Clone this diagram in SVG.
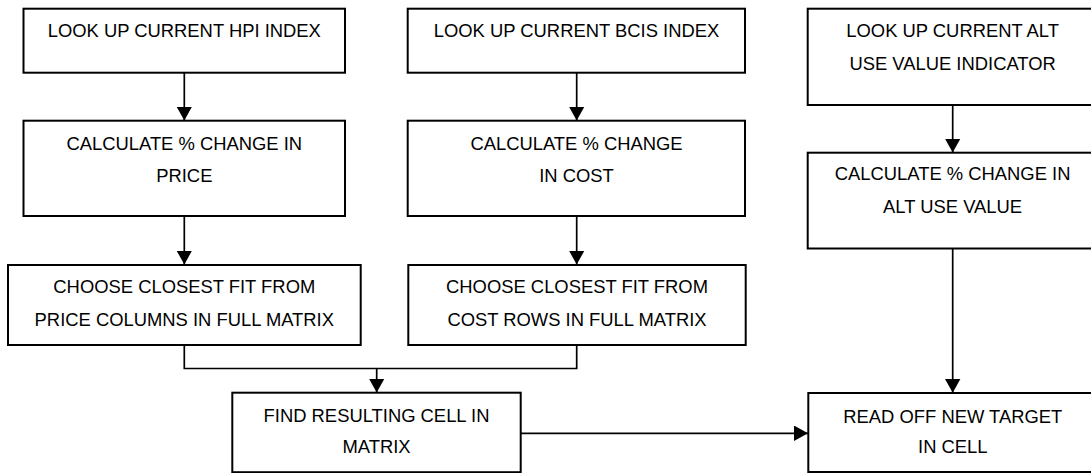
<svg xmlns="http://www.w3.org/2000/svg" width="1091" height="473" viewBox="0 0 1091 473">
<style>
.box{fill:#fff;stroke:#000;stroke-width:2}
.t{font-family:"Liberation Sans",Arial,sans-serif;font-size:18.4px;fill:#000;text-anchor:middle}
.c{fill:none;stroke:#000;stroke-width:1.7}
</style>
<defs>
<marker id="ah" markerUnits="userSpaceOnUse" markerWidth="15" markerHeight="16" refX="14" refY="7.8" orient="auto" viewBox="0 0 15 16">
<path d="M0,0 L14,7.8 L0,15.6 Z" fill="#000"/>
</marker>
</defs>
<rect width="1091" height="473" fill="#fff"/>
<g id="connectors">
<line class="c" x1="184.3" y1="73" x2="184.3" y2="120.5" marker-end="url(#ah)"/>
<line class="c" x1="576.7" y1="73" x2="576.7" y2="120.5" marker-end="url(#ah)"/>
<line class="c" x1="952.7" y1="105" x2="952.7" y2="152.5" marker-end="url(#ah)"/>
<line class="c" x1="184.3" y1="216" x2="184.3" y2="264.5" marker-end="url(#ah)"/>
<line class="c" x1="576.7" y1="216" x2="576.7" y2="264.5" marker-end="url(#ah)"/>
<polyline class="c" points="184.3,345 184.3,368.5 576.7,368.5 576.7,345"/>
<line class="c" x1="376.7" y1="368.5" x2="376.7" y2="392.5" marker-end="url(#ah)"/>
<line class="c" x1="520.7" y1="433.3" x2="808" y2="433.3" marker-end="url(#ah)"/>
<line class="c" x1="952.7" y1="249" x2="952.7" y2="392.8" marker-end="url(#ah)"/>
</g>
<g id="hpi">
<rect class="box" x="23.5" y="8.7" width="321.5" height="64"/>
<text class="t" x="184.3" y="36.7">LOOK UP CURRENT HPI INDEX</text>
</g>
<g id="bcis">
<rect class="box" x="407.7" y="8.7" width="337.3" height="64"/>
<text class="t" x="576.5" y="36.7">LOOK UP CURRENT BCIS INDEX</text>
</g>
<g id="alt">
<rect class="box" x="807.7" y="8.7" width="290" height="96.3"/>
<text class="t" x="952.6" y="36.7">LOOK UP CURRENT ALT</text>
<text class="t" x="952.6" y="70">USE VALUE INDICATOR</text>
</g>
<g id="calc-price">
<rect class="box" x="23.5" y="120.7" width="321.5" height="95.3"/>
<text class="t" x="184.3" y="150">CALCULATE % CHANGE IN</text>
<text class="t" x="184.3" y="181.7">PRICE</text>
</g>
<g id="calc-cost">
<rect class="box" x="407.7" y="120.7" width="337.3" height="95.3"/>
<text class="t" x="576.5" y="150">CALCULATE % CHANGE</text>
<text class="t" x="576.5" y="181.7">IN COST</text>
</g>
<g id="calc-alt">
<rect class="box" x="807.7" y="152.7" width="290" height="95.8"/>
<text class="t" x="952.6" y="180">CALCULATE % CHANGE IN</text>
<text class="t" x="952.6" y="213.3">ALT USE VALUE</text>
</g>
<g id="choose-price">
<rect class="box" x="8" y="265" width="352.7" height="80"/>
<text class="t" x="184.3" y="292.7">CHOOSE CLOSEST FIT FROM</text>
<text class="t" x="184.3" y="326">PRICE COLUMNS IN FULL MATRIX</text>
</g>
<g id="choose-cost">
<rect class="box" x="408.3" y="265" width="337.4" height="80"/>
<text class="t" x="577" y="292.7">CHOOSE CLOSEST FIT FROM</text>
<text class="t" x="577" y="326">COST ROWS IN FULL MATRIX</text>
</g>
<g id="find-cell">
<rect class="box" x="232.3" y="392.7" width="288.4" height="79.5"/>
<text class="t" x="376.5" y="422.3">FIND RESULTING CELL IN</text>
<text class="t" x="376.5" y="453.3">MATRIX</text>
</g>
<g id="read-off">
<rect class="box" x="808.3" y="393" width="290" height="79"/>
<text class="t" x="952.8" y="422.7">READ OFF NEW TARGET</text>
<text class="t" x="952.8" y="453.3">IN CELL</text>
</g>
</svg>
